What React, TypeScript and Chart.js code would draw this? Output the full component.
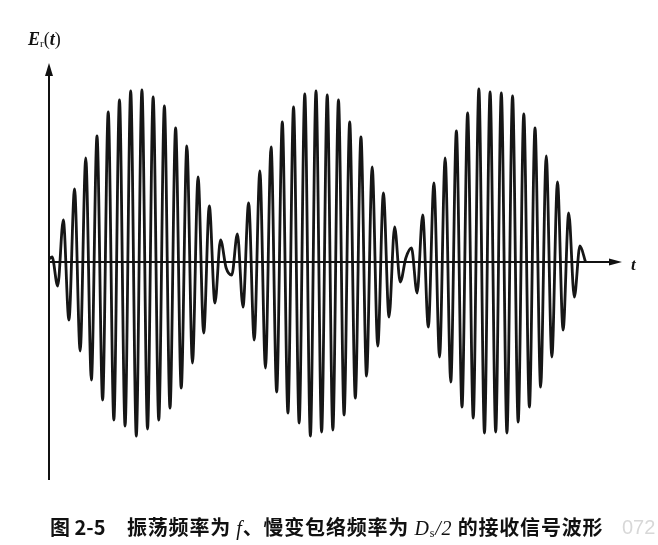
import React, { useEffect, useRef } from "react";
import { Chart, registerables } from "chart.js";

Chart.register(...registerables);

// Successive extrema of the received signal (half-cycle steps).
const LEAD_IN = [0];
const LOBE_1 = [5, -24, 42, -58, 73, -89, 104, -118, 126, -138, 150, -158, 162, -164, 171, -174, 172, -167, 165, -158, 156, -146, 134, -126, 116, -101, 85, -71, 56, -41, 22, -6, -13];
const LOBE_2 = [28, -45, 59, -78, 91, -106, 115, -130, 140, -151, 155, -161, 168, -174, 171, -170, 167, -168, 162, -153, 140, -136, 125, -114, 95, -84, 69, -55, 35, -20, 4, 14, -31];
const LOBE_3 = [47, -65, 79, -95, 104, -120, 131, -145, 149, -156, 173, -171, 170, -170, 169, -171, 166, -160, 148, -145, 134, -125, 106, -95, 80, -68, 49, -35, 16, 0];

// Axis extents (time in half-cycles, amplitude in arbitrary units)
const X_MIN = -0.547;
const X_MAX = 101.49;
const Y_MIN = -218;
const Y_MAX = 199;

const Y_LABEL = "E";
const Y_LABEL_SUB = "r";
const X_LABEL = "t";

const arrowAxes = {
  id: "arrowAxes",
  afterDatasetsDraw(chart: any) {
    const { ctx } = chart;
    const xs = chart.scales.x;
    const ys = chart.scales.y;
    const x0 = xs.getPixelForValue(X_MIN);
    const x1 = xs.getPixelForValue(X_MAX);
    const y0 = ys.getPixelForValue(0);
    const yTop = ys.getPixelForValue(Y_MAX);
    const yBot = ys.getPixelForValue(Y_MIN);
    ctx.save();
    ctx.strokeStyle = "#111";
    ctx.fillStyle = "#111";
    ctx.lineWidth = 2;
    ctx.beginPath();
    ctx.moveTo(x0, yBot);
    ctx.lineTo(x0, yTop + 10);
    ctx.stroke();
    ctx.beginPath();
    ctx.moveTo(x0, yTop);
    ctx.lineTo(x0 - 4, yTop + 13);
    ctx.lineTo(x0 + 4, yTop + 13);
    ctx.closePath();
    ctx.fill();
    ctx.beginPath();
    ctx.moveTo(x0, y0);
    ctx.lineTo(x1 - 10, y0);
    ctx.stroke();
    ctx.beginPath();
    ctx.moveTo(x1, y0);
    ctx.lineTo(x1 - 13, y0 - 3.5);
    ctx.lineTo(x1 - 13, y0 + 3.5);
    ctx.closePath();
    ctx.fill();
    ctx.restore();
  },
};

export default function App() {
  const ref = useRef<HTMLCanvasElement | null>(null);

  useEffect(() => {
    if (!ref.current) return;
    const values = [...LEAD_IN, ...LOBE_1, ...LOBE_2, ...LOBE_3];
    const points = values.map((v, i) => ({ x: i - LEAD_IN.length, y: v }));
    const chart = new Chart(ref.current, {
      type: "line",
      data: {
        datasets: [
          {
            data: points,
            borderColor: "#161616",
            borderWidth: 2.8,
            pointRadius: 0,
            cubicInterpolationMode: "monotone",
            fill: false,
          },
        ],
      },
      options: {
        responsive: false,
        animation: false,
        events: [],
        layout: { padding: { left: 49, right: 36, top: 63, bottom: 65 } },
        plugins: { legend: { display: false }, tooltip: { enabled: false }, title: { display: false } },
        scales: {
          x: { type: "linear", display: false, min: X_MIN, max: X_MAX },
          y: { type: "linear", display: false, min: Y_MIN, max: Y_MAX },
        },
      },
      plugins: [arrowAxes],
    });
    return () => chart.destroy();
  }, []);

  const serif = '"Liberation Serif", "Times New Roman", serif';
  const cjk = '"Noto Sans CJK SC", "Liberation Sans", sans-serif';

  return (
    <div style={{ position: "fixed", left: 0, top: 0, width: 658, height: 545, background: "#fff", overflow: "hidden" }}>
      <canvas ref={ref} width={658} height={545} style={{ display: "block", position: "absolute", left: 0, top: 0 }} />
      <div style={{ position: "absolute", left: 28, top: 30, fontFamily: serif, fontStyle: "italic", fontWeight: 700, fontSize: 18, lineHeight: "18px", color: "#111", whiteSpace: "nowrap" }}>
        {Y_LABEL}
        <sub style={{ fontSize: 11, verticalAlign: "-2px", fontStyle: "normal", fontWeight: 400 }}>{Y_LABEL_SUB}</sub>
        <span style={{ fontStyle: "normal", fontWeight: 400 }}>(</span>
        {X_LABEL}
        <span style={{ fontStyle: "normal", fontWeight: 400 }}>)</span>
      </div>
      <div style={{ position: "absolute", left: 631, top: 256, fontFamily: serif, fontStyle: "italic", fontWeight: 700, fontSize: 17, lineHeight: "17px", color: "#111" }}>
        {X_LABEL}
      </div>
      <div style={{ position: "absolute", left: 50, top: 517, fontFamily: cjk, fontWeight: 700, fontSize: 20, lineHeight: "20px", color: "#111", whiteSpace: "nowrap" }}>
        图 2-5
      </div>
      <div style={{ position: "absolute", left: 127, top: 517, fontFamily: cjk, fontWeight: 700, fontSize: 20, lineHeight: "20px", letterSpacing: 0.8, color: "#111", whiteSpace: "nowrap" }}>
        振荡频率为 <span style={{ fontFamily: serif, fontStyle: "italic", fontWeight: 400 }}>f</span>、慢变包络频率为 <span style={{ fontFamily: serif, fontStyle: "italic", fontWeight: 400 }}>D</span>
        <sub style={{ fontFamily: serif, fontWeight: 400, fontSize: 12, verticalAlign: "-2px" }}>s</sub>
        <span style={{ fontFamily: serif, fontStyle: "italic", fontWeight: 400 }}>/2</span> 的接收信号波形
      </div>
      <div style={{ position: "absolute", left: 622, top: 517, fontFamily: '"Liberation Sans", sans-serif', fontSize: 20, lineHeight: "20px", color: "#d8d8d8" }}>
        072
      </div>
    </div>
  );
}
